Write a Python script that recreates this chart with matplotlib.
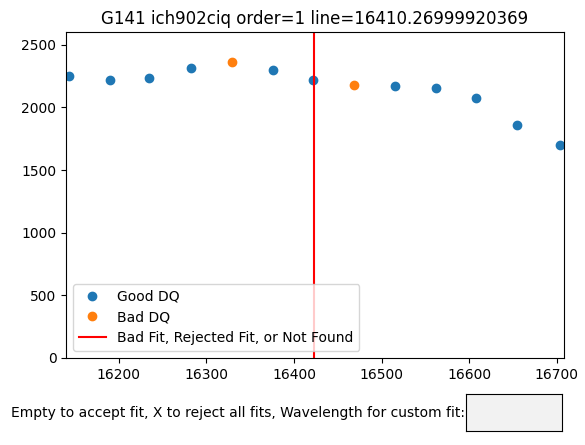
import matplotlib
matplotlib.use('Agg')
import matplotlib.pyplot as plt
from matplotlib.widgets import TextBox
import numpy as np

# Wavelength samples and fluxes
wave = [16143, 16190, 16235, 16282, 16329, 16376, 16422, 16469, 16515, 16562, 16608, 16655, 16703]
flux = [2248, 2216, 2232, 2319, 2366, 2303, 2220, 2183, 2174, 2156, 2077, 1861, 1702]
bad_dq = [False, False, False, False, True, False, False, True, False, False, False, False, False]
fit_line = 16423
title = 'G141 ich902ciq order=1 line=16410.26999920369'
xlim = (16140, 16708)

wave = np.array(wave)
flux = np.array(flux)
bad = np.array(bad_dq)

fig = plt.figure(figsize=(5.85, 4.45), dpi=100)
ax = fig.add_axes([0.113, 0.196, 0.851, 0.732])

ax.plot(wave[~bad], flux[~bad], 'o', label='Good DQ')
ax.plot(wave[bad], flux[bad], 'o', label='Bad DQ')
ax.axvline(fit_line, color='red', label='Bad Fit, Rejected Fit, or Not Found')
ax.set_xlim(*xlim)
ax.set_ylim(0, 1.1 * flux.max())
ax.set_title(title)
ax.legend(loc='lower left')

box_ax = fig.add_axes([0.797, 0.031, 0.164, 0.083])
TextBox(box_ax, 'Empty to accept fit, X to reject all fits, Wavelength for custom fit:')

plt.savefig('out.png')
plt.close()
